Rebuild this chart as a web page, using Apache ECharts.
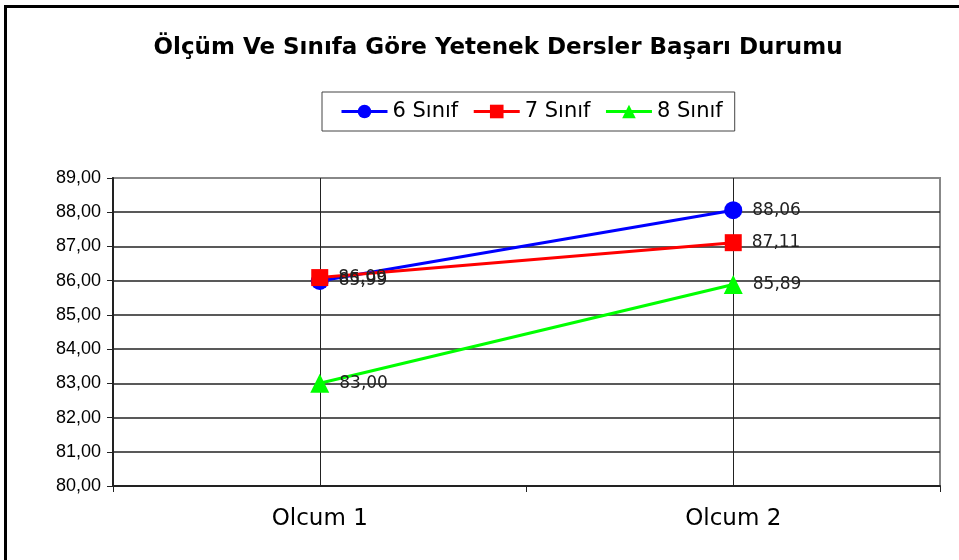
<!DOCTYPE html>
<html>
<head>
<meta charset="utf-8">
<script src="https://cdn.jsdelivr.net/npm/echarts@6/dist/echarts.min.js"></script>
<style>
  body { margin: 0; background: #fff; }
  #chart { position: absolute; left: 0; top: 0; width: 959px; height: 560px; }
  #frame { position: absolute; left: 4px; top: 5px; width: 960px; height: 560px;
           border-left: 3px solid #000; border-top: 3px solid #000; pointer-events: none; }
</style>
</head>
<body>
<div id="chart"></div>
<div id="frame"></div>
<script>
var categories = ['Olcum 1', 'Olcum 2']
var sinif6 = [85.99, 88.06]
var sinif7 = [86.09, 87.11]
var sinif8 = [83.00, 85.89]

function fmt(v) {
  return v.toFixed(2).replace('.', ',')
}

var chart = echarts.init(document.getElementById('chart'))

function makeSeries(name, data, color, symbol, size) {
  return {
    name: name,
    type: 'line',
    data: data,
    symbol: symbol,
    symbolSize: size,
    lineStyle: { color: color, width: 3 },
    itemStyle: { color: color },
    label: {
      show: true,
      position: 'right',
      distance: 10,
      formatter: function (p) { return fmt(p.value) },
      fontFamily: 'DejaVu Sans',
      fontSize: 17,
      color: '#222'
    },
    z: 5
  }
}

var s6 = makeSeries('6 Sınıf', sinif6, '#0000ff', 'circle', 18)
// vertical grid lines through the categories
s6.markLine = {
  silent: true,
  symbol: 'none',
  label: { show: false },
  lineStyle: { color: '#222', width: 1, type: 'solid' },
  data: [{ xAxis: 0 }, { xAxis: 1 }],
  z: 1
}

chart.setOption({
  animation: false,
  title: {
    text: 'Ölçüm Ve Sınıfa Göre Yetenek Dersler Başarı Durumu',
    left: 493,
    textAlign: 'center',
    top: 32,
    textStyle: { fontFamily: 'DejaVu Sans', fontWeight: 'bold', fontSize: 23, color: '#000' }
  },
  legend: {
    left: 322,
    top: 92,
    padding: [9, 12, 9, 18],
    itemGap: 14,
    itemWidth: 46,
    itemHeight: 17,
    borderColor: '#444',
    borderWidth: 1,
    lineStyle: { width: 3 },
    textStyle: { fontFamily: 'DejaVu Sans', fontSize: 21, color: '#000' },
    data: ['6 Sınıf', '7 Sınıf', '8 Sınıf']
  },
  grid: {
    left: 113,
    right: 19,
    top: 178,
    bottom: 74,
    show: true,
    borderColor: '#888',
    borderWidth: 2
  },
  xAxis: {
    type: 'category',
    data: categories,
    axisLine: { lineStyle: { color: '#222', width: 2 } },
    axisTick: { show: true, length: 6, lineStyle: { color: '#222', width: 1 } },
    axisLabel: { fontFamily: 'DejaVu Sans', fontSize: 23, color: '#000', margin: 22 }
  },
  yAxis: {
    type: 'value',
    min: 80,
    max: 89,
    interval: 1,
    axisLine: { show: true, lineStyle: { color: '#222', width: 2 } },
    axisTick: { show: true, length: 6, lineStyle: { color: '#222' } },
    axisLabel: {
      fontFamily: 'Liberation Sans',
      fontSize: 18,
      color: '#000',
      margin: 12,
      formatter: function (v) { return fmt(v) }
    },
    splitLine: {
      lineStyle: {
        color: ['#222', '#222', '#222', '#222', '#222', '#222', '#222', '#222', '#222', '#888'],
        width: 1.5
      }
    }
  },
  series: [
    s6,
    makeSeries('7 Sınıf', sinif7, '#ff0000', 'rect', 17),
    makeSeries('8 Sınıf', sinif8, '#00ff00', 'triangle', 19)
  ]
})
</script>
</body>
</html>
